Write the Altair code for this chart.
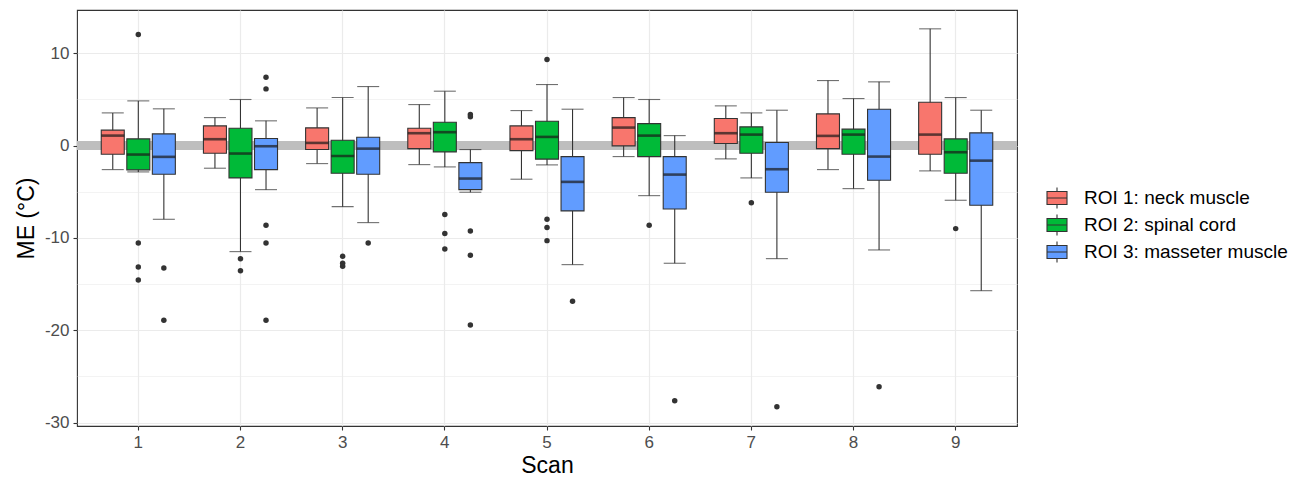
import altair as alt
import pandas as pd

SCANS = ["1", "2", "3", "4", "5", "6", "7", "8", "9"]
ROIS = ["ROI 1: neck muscle", "ROI 2: spinal cord", "ROI 3: masseter muscle"]
COLORS = ["#F8766D", "#00BA38", "#619CFF"]

# ROI 1: neck muscle
r1_lower = [-2.6, -2.45, -1.95, -2.06, -3.64, -1.19, -1.44, -2.6, -2.74]
r1_q1 = [-0.93, -0.83, -0.43, -0.33, -0.54, -0.03, 0.22, -0.33, -0.93]
r1_median = [1.08, 0.69, 0.29, 1.34, 0.69, 1.95, 1.34, 1.05, 1.19]
r1_q3 = [1.67, 2.13, 1.92, 1.88, 2.13, 3.03, 2.93, 3.43, 4.7]
r1_upper = [3.54, 3.03, 4.08, 4.44, 3.79, 5.2, 4.3, 7.04, 12.64]
r1_out = [[], [], [], [], [], [], [], [], []]

# ROI 2: spinal cord
r2_lower = [-2.85, -11.48, -6.61, -2.31, -2.09, -5.42, -3.5, -4.66, -5.92]
r2_q1 = [-2.63, -3.5, -2.99, -0.68, -1.47, -1.19, -0.83, -0.93, -2.99]
r2_median = [-0.97, -0.86, -1.12, 1.45, 0.94, 1.08, 1.19, 1.19, -0.72]
r2_q3 = [0.73, 1.88, 0.58, 2.53, 2.64, 2.38, 2.03, 1.78, 0.73]
r2_upper = [4.84, 4.99, 5.2, 5.89, 6.61, 4.99, 3.54, 5.09, 5.2]
r2_out = [[12.03, -10.54, -13.14, -14.55], [-12.24, -13.54], [-11.98, -12.74, -13.07],
          [-7.47, -9.53, -11.19], [9.32, -7.97, -8.88, -10.29], [-8.63], [-6.18], [], [-8.99]]

# ROI 3: masseter muscle
r3_lower = [-7.98, -4.77, -8.34, -5.05, -12.89, -12.74, -12.24, -11.3, -15.71]
r3_q1 = [-3.1, -2.6, -3.1, -4.77, -7.07, -6.86, -5.05, -3.75, -6.46]
r3_median = [-1.22, -0.07, -0.33, -3.57, -3.93, -3.14, -2.56, -1.19, -1.63]
r3_q3 = [1.27, 0.76, 0.91, -1.84, -1.19, -1.19, 0.33, 3.94, 1.38]
r3_upper = [3.98, 2.68, 6.39, -0.43, 3.94, 1.08, 3.83, 6.9, 3.83]
r3_out = [[-13.25, -18.92], [7.41, 6.14, -8.63, -10.54, -18.92], [-10.54],
          [3.36, 3.11, -9.24, -11.88, -19.43], [-16.86], [-27.63], [-28.28], [-26.11], []]

Y_TICKS = [-30, -25, -20, -15, -10, -5, 0, 5, 10]

stats = [
    (r1_lower, r1_q1, r1_median, r1_q3, r1_upper, r1_out),
    (r2_lower, r2_q1, r2_median, r2_q3, r2_upper, r2_out),
    (r3_lower, r3_q1, r3_median, r3_q3, r3_upper, r3_out),
]

box_rows, out_rows = [], []
for roi, (lo, q1, md, q3, up, outs) in zip(ROIS, stats):
    for i, s in enumerate(SCANS):
        box_rows.append(dict(scan=s, roi=roi, lower=lo[i], q1=q1[i], median=md[i], q3=q3[i], upper=up[i]))
        for v in outs[i]:
            out_rows.append(dict(scan=s, roi=roi, value=v))

box_df = pd.DataFrame(box_rows)
out_df = pd.DataFrame(out_rows)
zero_df = pd.DataFrame({"z": [0]})

FONT = "Liberation Sans"
DARK = "#333333"

x_enc = alt.X("scan:N", sort=SCANS,
              scale=alt.Scale(paddingInner=0, paddingOuter=0.1),
              axis=alt.Axis(title="Scan", labelAngle=0, bandPosition=0.5, grid=True,
                            gridColor="#EBEBEB", gridWidth=1.2, domain=False,
                            tickColor=DARK, tickSize=4, tickWidth=1.1,
                            labelColor="#4D4D4D", labelFontSize=17, labelPadding=4,
                            titleFontSize=23, titleColor="black", titleFontWeight="normal",
                            titlePadding=4))
xo_enc = alt.XOffset("roi:N", sort=ROIS, scale=alt.Scale(paddingInner=0, paddingOuter=0.5))
y_scale = alt.Scale(domain=[-30.36, 14.68], nice=False, zero=False)
y_axis = alt.Axis(title="ME (°C)", values=Y_TICKS, grid=True, gridColor="#EBEBEB",
                  gridWidth=alt.condition("datum.value % 10 == 0", alt.value(1.2), alt.value(0.6)),
                  tickOpacity=alt.condition("datum.value % 10 == 0", alt.value(1), alt.value(0)),
                  labelExpr="datum.value % 10 == 0 ? '' + datum.value : ''",
                  domain=False, tickColor=DARK, tickSize=4, tickWidth=1.1,
                  labelColor="#4D4D4D", labelFontSize=17, labelPadding=4,
                  titleFontSize=23, titleColor="black", titleFontWeight="normal", titlePadding=6)

zero = alt.Chart(zero_df).mark_rule(color="#BEBEBE", strokeWidth=9).encode(
    y=alt.Y("z:Q", scale=y_scale, axis=y_axis))

base = alt.Chart(box_df).encode(x=x_enc, xOffset=xo_enc)

whisk = base.mark_rule(color=DARK, strokeWidth=1.1).encode(
    y=alt.Y("lower:Q", scale=y_scale), y2="upper:Q")
cap_lo = base.mark_tick(color=DARK, size=22, thickness=1.1).encode(y=alt.Y("lower:Q", scale=y_scale))
cap_hi = base.mark_tick(color=DARK, size=22, thickness=1.1).encode(y=alt.Y("upper:Q", scale=y_scale))

legend_symbol = "M-1,-0.65L1,-0.65L1,0.65L-1,0.65Z M-1,0L1,0 M0,-0.65L0,-1.05 M0,0.65L0,1.05"
box = base.mark_bar(stroke=DARK, strokeWidth=1.1, size=23, opacity=1).encode(
    y=alt.Y("q1:Q", scale=y_scale), y2="q3:Q",
    color=alt.Color("roi:N", sort=ROIS, scale=alt.Scale(domain=ROIS, range=COLORS),
                    legend=alt.Legend(title=None, orient="none", legendX=969, legendY=177,
                                      symbolType=legend_symbol, symbolSize=400,
                                      symbolStrokeColor=DARK, symbolStrokeWidth=1.1,
                                      symbolOpacity=1, labelLimit=400,
                                      labelFont=FONT, labelFontSize=19, labelColor="black",
                                      labelOffset=16, rowPadding=1, padding=0)))
med = base.mark_tick(color="#1A1A1A", size=23, thickness=2.6).encode(y=alt.Y("median:Q", scale=y_scale))

outl = alt.Chart(out_df).mark_circle(color=DARK, size=30, opacity=1).encode(
    x=x_enc, xOffset=xo_enc, y=alt.Y("value:Q", scale=y_scale))

chart = alt.layer(zero, whisk, cap_lo, cap_hi, box, med, outl).properties(
    width=940, height=416, autosize="none",
    padding={"left": 69, "top": 2, "right": 271, "bottom": 54},
    background="white",
).configure(
    font=FONT,
    view=alt.ViewConfig(stroke=DARK, strokeWidth=1.1, strokeOpacity=1),
)

chart.save("out.html", embed_options={"renderer": "svg", "actions": False})
